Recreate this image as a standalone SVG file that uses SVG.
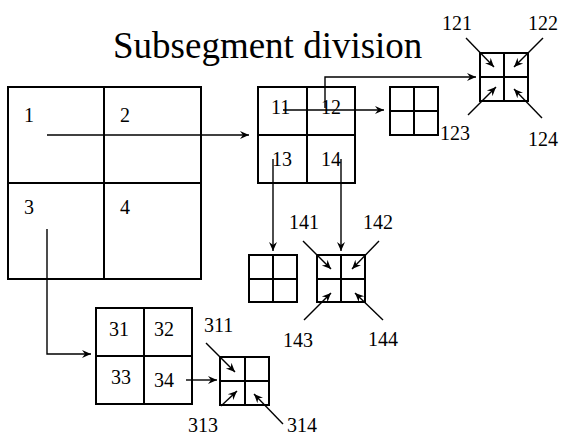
<svg xmlns="http://www.w3.org/2000/svg" width="563" height="442" viewBox="0 0 563 442">
<style>
.box{fill:none;stroke:#000;stroke-width:2}
.grid{stroke:#000;stroke-width:2}
.lbl{font-family:"Liberation Serif","Times New Roman",serif;font-size:20px;fill:#000}
.ttl{font-family:"Liberation Serif","Times New Roman",serif;font-size:37px;fill:#000}
.arr{fill:none;stroke:#000;stroke-width:1.4;marker-end:url(#ah)}
</style>
<defs>
<marker id="ah" markerUnits="userSpaceOnUse" markerWidth="10" markerHeight="10" viewBox="0 0 10 10" refX="9" refY="5" orient="auto">
<path d="M0,1 L9,5 L0,9 L3,5 z" fill="#000"/>
</marker>
</defs>
<rect width="563" height="442" fill="#fff"/>
<text class="ttl" x="113" y="58">Subsegment division</text>

<g id="seg">
<rect class="box" x="8" y="87" width="193" height="192"/>
<line class="grid" x1="104" y1="87" x2="104" y2="279"/>
<line class="grid" x1="8" y1="183" x2="201" y2="183"/>
<text class="lbl" x="24" y="122">1</text>
<text class="lbl" x="120" y="122">2</text>
<text class="lbl" x="24" y="214">3</text>
<text class="lbl" x="120" y="214">4</text>
</g>

<g id="seg1">
<rect class="box" x="258" y="87" width="97" height="96"/>
<line class="grid" x1="307" y1="87" x2="307" y2="183"/>
<line class="grid" x1="258" y1="135" x2="355" y2="135"/>
<text class="lbl" x="271" y="114">11</text>
<text class="lbl" x="321" y="114">12</text>
<text class="lbl" x="272" y="166">13</text>
<text class="lbl" x="321" y="166">14</text>
</g>

<g id="seg11">
<rect class="box" x="390" y="87" width="48" height="48"/>
<line class="grid" x1="414" y1="87" x2="414" y2="135"/>
<line class="grid" x1="390" y1="111" x2="438" y2="111"/>
</g>

<g id="seg12">
<rect class="box" x="480" y="53" width="48" height="48"/>
<line class="grid" x1="504" y1="53" x2="504" y2="101"/>
<line class="grid" x1="480" y1="77" x2="528" y2="77"/>
<text class="lbl" x="442" y="30">121</text>
<text class="lbl" x="528" y="30">122</text>
<text class="lbl" x="440" y="140">123</text>
<text class="lbl" x="528" y="146">124</text>
</g>

<g id="seg13">
<rect class="box" x="249" y="255" width="48" height="47"/>
<line class="grid" x1="273" y1="255" x2="273" y2="302"/>
<line class="grid" x1="249" y1="279" x2="297" y2="279"/>
</g>

<g id="seg14">
<rect class="box" x="317" y="255" width="48" height="47"/>
<line class="grid" x1="341" y1="255" x2="341" y2="302"/>
<line class="grid" x1="317" y1="279" x2="365" y2="279"/>
<text class="lbl" x="289" y="229">141</text>
<text class="lbl" x="363" y="229">142</text>
<text class="lbl" x="283" y="347">143</text>
<text class="lbl" x="368" y="346">144</text>
</g>

<g id="seg3">
<rect class="box" x="96" y="308" width="96" height="96"/>
<line class="grid" x1="144" y1="308" x2="144" y2="404"/>
<line class="grid" x1="96" y1="356" x2="192" y2="356"/>
<text class="lbl" x="109" y="336">31</text>
<text class="lbl" x="154" y="336">32</text>
<text class="lbl" x="111" y="384">33</text>
<text class="lbl" x="154" y="387">34</text>
</g>

<g id="seg34">
<rect class="box" x="220" y="357" width="49" height="48"/>
<line class="grid" x1="245" y1="357" x2="245" y2="405"/>
<line class="grid" x1="220" y1="381" x2="269" y2="381"/>
<text class="lbl" x="204" y="332">311</text>
<text class="lbl" x="188" y="432">313</text>
<text class="lbl" x="287" y="432">314</text>
</g>

<g id="connectors">
<path class="arr" d="M47,135 H249"/>
<path class="arr" d="M47,229 V354 H91"/>
<path class="arr" d="M283,110 H384"/>
<path class="arr" d="M325,108 V77 H476"/>
<path class="arr" d="M273,159 V251"/>
<path class="arr" d="M341,159 V251"/>
<path class="arr" d="M186,380 H217"/>
<path class="arr" d="M466,38 L494,67"/>
<path class="arr" d="M543,38 L514,67"/>
<path class="arr" d="M468,115 L496,87"/>
<path class="arr" d="M542,118 L514,89"/>
<path class="arr" d="M303,241 L331,269"/>
<path class="arr" d="M379,241 L352,269"/>
<path class="arr" d="M304,320 L331,293"/>
<path class="arr" d="M383,320 L355,293"/>
<path class="arr" d="M206,343 L235,372"/>
<path class="arr" d="M221,406 L237,391"/>
<path class="arr" d="M283,424 L254,394"/>
</g>
</svg>
